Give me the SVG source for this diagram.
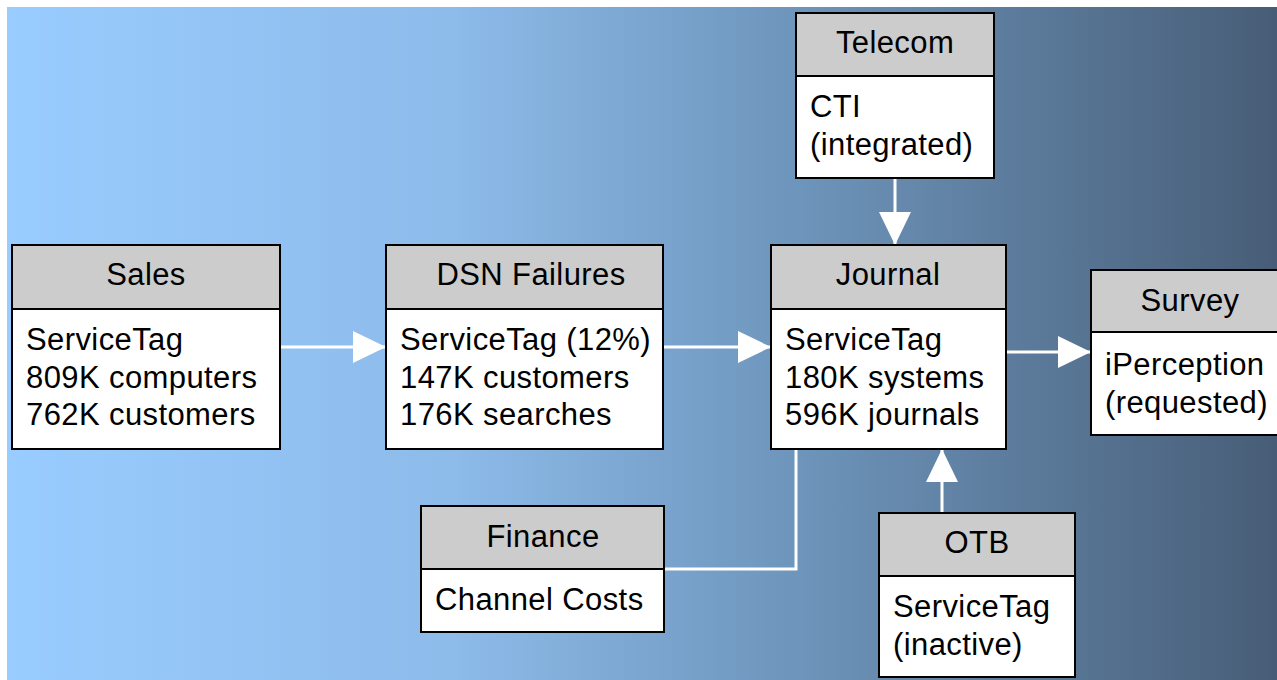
<svg xmlns="http://www.w3.org/2000/svg" width="1277" height="680" viewBox="0 0 1277 680">
<defs>
<linearGradient id="bg" x1="7" y1="0" x2="1277" y2="0" gradientUnits="userSpaceOnUse">
<stop offset="0" stop-color="#99CCFF"/>
<stop offset="0.35" stop-color="#8DBBEA"/>
<stop offset="0.6" stop-color="#7098BF"/>
<stop offset="1" stop-color="#475D77"/>
</linearGradient>
<marker id="ah" markerUnits="userSpaceOnUse" markerWidth="34" markerHeight="32" refX="33" refY="16" orient="auto">
<path d="M0,0 L33,16 L0,32 Z" fill="#FFFFFF"/>
</marker>
<style>
.hd{fill:#CCCCCC;stroke:#000;stroke-width:2}
.bd{fill:#FFFFFF;stroke:#000;stroke-width:2}
text{font-family:"Liberation Sans",Arial,sans-serif;font-size:31px;letter-spacing:0.4px;fill:#000}
.c{text-anchor:middle}
.cn{fill:none;stroke:#FFFFFF;stroke-width:3}
</style>
</defs>
<rect x="0" y="0" width="1277" height="680" fill="#FFFFFF"/>
<rect x="7" y="7" width="1270" height="673" fill="url(#bg)"/>
<g id="connectors">
<line class="cn" x1="280" y1="347" x2="386" y2="347" marker-end="url(#ah)"/>
<line class="cn" x1="663" y1="347" x2="771" y2="347" marker-end="url(#ah)"/>
<line class="cn" x1="1006" y1="352" x2="1091" y2="352" marker-end="url(#ah)"/>
<line class="cn" x1="895" y1="178" x2="895" y2="245" marker-end="url(#ah)"/>
<line class="cn" x1="942" y1="513" x2="942" y2="449" marker-end="url(#ah)"/>
<polyline class="cn" points="664,569 796,569 796,449"/>
</g>
<g id="sales">
<rect class="bd" x="12" y="309" width="268" height="140"/>
<rect class="hd" x="12" y="245" width="268" height="64"/>
<text class="c" x="146" y="285">Sales</text>
<text x="26" y="350">ServiceTag</text>
<text x="26" y="388">809K computers</text>
<text x="26" y="425">762K customers</text>
</g>
<g id="dsn">
<rect class="bd" x="386" y="309" width="277" height="140"/>
<rect class="hd" x="386" y="245" width="277" height="64"/>
<text class="c" x="531" y="285">DSN Failures</text>
<text x="400" y="350">ServiceTag (12%)</text>
<text x="400" y="388">147K customers</text>
<text x="400" y="425">176K searches</text>
</g>
<g id="journal">
<rect class="bd" x="771" y="309" width="235" height="140"/>
<rect class="hd" x="771" y="245" width="235" height="64"/>
<text class="c" x="888" y="285">Journal</text>
<text x="785" y="350">ServiceTag</text>
<text x="785" y="388">180K systems</text>
<text x="785" y="425">596K journals</text>
</g>
<g id="telecom">
<rect class="bd" x="796" y="76" width="198" height="102"/>
<rect class="hd" x="796" y="13" width="198" height="63"/>
<text class="c" x="895" y="53">Telecom</text>
<text x="810" y="117">CTI</text>
<text x="810" y="155">(integrated)</text>
</g>
<g id="survey">
<rect class="bd" x="1091" y="332" width="200" height="103"/>
<rect class="hd" x="1091" y="270" width="200" height="62"/>
<text class="c" x="1190" y="311">Survey</text>
<text x="1105" y="375">iPerception</text>
<text x="1105" y="413">(requested)</text>
</g>
<g id="finance">
<rect class="bd" x="421" y="569" width="243" height="63"/>
<rect class="hd" x="421" y="506" width="243" height="63"/>
<text class="c" x="543" y="547">Finance</text>
<text x="435" y="610">Channel Costs</text>
</g>
<g id="otb">
<rect class="bd" x="879" y="576" width="196" height="101"/>
<rect class="hd" x="879" y="513" width="196" height="63"/>
<text class="c" x="977" y="553">OTB</text>
<text x="893" y="617">ServiceTag</text>
<text x="893" y="655">(inactive)</text>
</g>
</svg>
